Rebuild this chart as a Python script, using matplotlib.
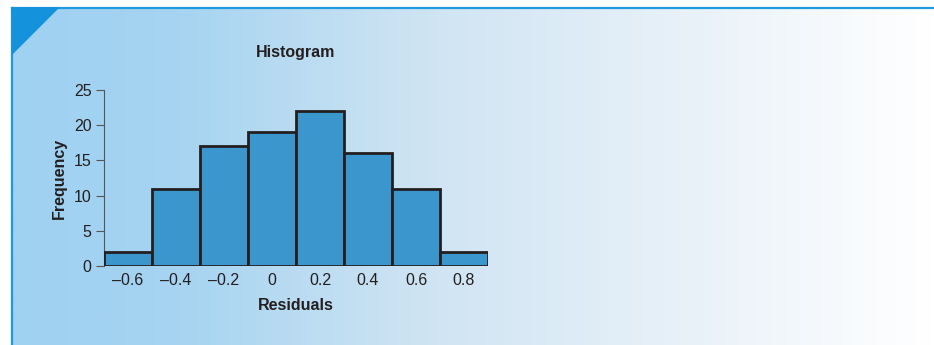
import matplotlib.pyplot as plt
import numpy as np
from matplotlib.colors import LinearSegmentedColormap
from matplotlib.patches import Polygon
from matplotlib.lines import Line2D

plt.rcParams['font.family'] = ['Liberation Sans', 'DejaVu Sans']

# histogram data (residual bins, width 0.2)
bin_centers = [-0.6, -0.4, -0.2, 0.0, 0.2, 0.4, 0.6, 0.8]
counts = [2, 11, 17, 19, 22, 16, 11, 2]
x_ticks = [-0.6, -0.4, -0.2, 0, 0.2, 0.4, 0.6, 0.8]
x_labels = ['\u20130.6', '\u20130.4', '\u20130.2', '0', '0.2', '0.4', '0.6', '0.8']
y_ticks = [0, 5, 10, 15, 20, 25]

W, H = 934, 345
fig = plt.figure(figsize=(W / 100, H / 100), dpi=100)

# panel background gradient
bg = fig.add_axes([12 / W, 0, 1 - 12 / W, 1 - 8 / H], zorder=0)
cmap = LinearSegmentedColormap.from_list(
    'panel', [(0, '#9fd1f1'), (0.18, '#a6d4f1'), (0.45, '#cfe4f3'),
              (0.75, '#eaf2f9'), (1, '#ffffff')])
bg.imshow(np.linspace(0, 1, 400)[None, :], aspect='auto', cmap=cmap,
          extent=[0, 1, 0, 1])
bg.set_axis_off()

# border lines and corner triangle
fig.add_artist(Line2D([12 / W, 1], [1 - 8 / H, 1 - 8 / H], color='#1e9ae0', lw=1.6))
fig.add_artist(Line2D([12 / W, 12 / W], [0, 1 - 8 / H], color='#1e9ae0', lw=1.6))
fig.add_artist(Polygon([(12 / W, 1 - 8 / H), (58 / W, 1 - 8 / H), (12 / W, 1 - 54 / H)],
                       closed=True, color='#1592dc', zorder=3))

ax = fig.add_axes([104 / W, 1 - 266 / H, 384 / W, 176 / H], zorder=2)
ax.patch.set_alpha(0)
ax.bar(bin_centers, counts, width=0.2, color='#3a96cc', edgecolor='#231f20',
       linewidth=2, zorder=3)
ax.set_xlim(-0.7, 0.9)
ax.set_ylim(0, 25)
ax.set_xticks(x_ticks)
ax.set_xticklabels(x_labels)
ax.set_yticks(y_ticks)
ax.tick_params(axis='x', length=0, pad=5, labelsize=11.5, labelcolor='#231f20')
ax.tick_params(axis='y', length=6, width=0.8, color='#555555', pad=3,
               labelsize=11.5, labelcolor='#231f20')
for s in ['top', 'right', 'bottom']:
    ax.spines[s].set_visible(False)
ax.spines['left'].set_color('#555555')
ax.spines['left'].set_linewidth(0.8)

ax.set_title('Histogram', fontsize=11.5, fontweight='bold', color='#231f20', pad=24)
ax.set_xlabel('Residuals', fontsize=11.5, fontweight='bold', color='#231f20', labelpad=7)
ax.set_ylabel('Frequency', fontsize=11.5, fontweight='bold', color='#231f20', labelpad=5)

fig.savefig('out.png', dpi=100)
